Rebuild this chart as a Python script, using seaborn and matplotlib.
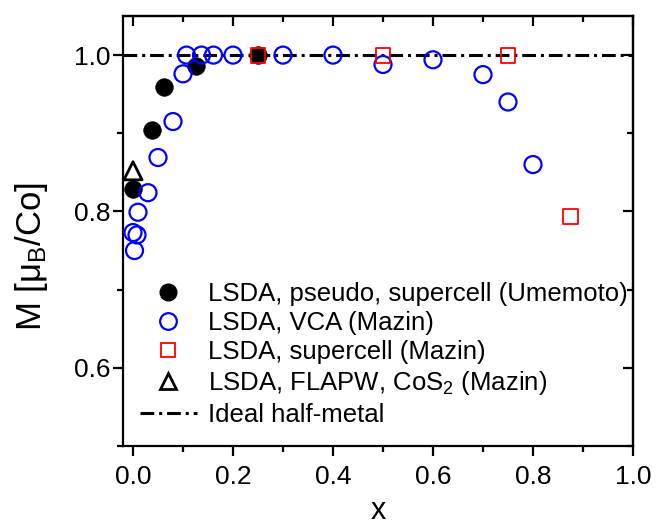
import matplotlib
matplotlib.use("Agg")
import matplotlib.pyplot as plt
import seaborn as sns
import pandas as pd
from matplotlib.ticker import MultipleLocator, FormatStrFormatter
from matplotlib.lines import Line2D

# LSDA pseudopotential supercell (Umemoto)
x_umemoto = [0.0, 0.0385, 0.0625, 0.125, 0.25]
m_umemoto = [0.829, 0.904, 0.959, 0.986, 1.0]

# LSDA virtual crystal approximation (Mazin)
x_vca = [0.0, 0.003, 0.008, 0.01, 0.03, 0.05, 0.08, 0.1, 0.107, 0.137,
         0.161, 0.2, 0.3, 0.4, 0.5, 0.6, 0.7, 0.75, 0.8]
m_vca = [0.773, 0.75, 0.77, 0.799, 0.824, 0.869, 0.915, 0.976, 1.0, 1.0,
         1.0, 1.0, 1.0, 1.0, 0.988, 0.994, 0.975, 0.94, 0.86]

# LSDA supercell (Mazin)
x_super = [0.25, 0.5, 0.75, 0.875]
m_super = [1.0, 1.0, 1.0, 0.794]

# LSDA FLAPW for CoS2 (Mazin)
x_flapw = [0.0]
m_flapw = [0.852]

# ideal half-metal moment
m_ideal = 1.0

labels = [
    "LSDA, pseudo, supercell (Umemoto)",
    "LSDA, VCA (Mazin)",
    "LSDA, supercell (Mazin)",
    r"LSDA, FLAPW, CoS$_2$ (Mazin)",
    "Ideal half-metal",
]

sns.set_theme(style="ticks")
plt.rcParams["font.family"] = ["Liberation Sans", "DejaVu Sans"]
plt.rcParams["mathtext.fontset"] = "custom"
plt.rcParams["mathtext.rm"] = "Liberation Sans"
plt.rcParams["mathtext.it"] = "Liberation Sans:italic"
plt.rcParams["mathtext.bf"] = "Liberation Sans:bold"
plt.rcParams["text.color"] = "black"
plt.rcParams["axes.labelcolor"] = "black"
plt.rcParams["xtick.color"] = "black"
plt.rcParams["ytick.color"] = "black"

fig = plt.figure(figsize=(6.56, 5.25), dpi=100)
ax = fig.add_axes([123 / 656, 1 - 446 / 525, (633 - 123) / 656, (446 - 16) / 525])

df_u = pd.DataFrame({"x": x_umemoto, "M": m_umemoto})
df_v = pd.DataFrame({"x": x_vca, "M": m_vca})
df_s = pd.DataFrame({"x": x_super, "M": m_super})
df_f = pd.DataFrame({"x": x_flapw, "M": m_flapw})

sns.scatterplot(data=df_u, x="x", y="M", ax=ax, marker="o", s=160,
                color="black", edgecolor="black", linewidth=0.5, zorder=3)
sns.scatterplot(data=df_v, x="x", y="M", ax=ax, marker="o", s=150,
                color="blue", facecolor="none", edgecolor="blue",
                linewidth=1.6, zorder=4)
sns.scatterplot(data=df_s, x="x", y="M", ax=ax, marker="s", s=115,
                color="red", facecolor="none", edgecolor="red",
                linewidth=1.3, zorder=5)
sns.scatterplot(data=df_f, x="x", y="M", ax=ax, marker="^", s=170,
                color="black", facecolor="none", edgecolor="black",
                linewidth=2.0, zorder=5)
ideal_style = dict(color="black", lw=2.2, ls=(0, (4.5, 1.6, 1.0, 1.6)))
ax.axhline(m_ideal, zorder=2, **ideal_style)

ax.set_xlim(-0.02, 1.0)
ax.set_ylim(0.5, 1.05)
ax.set_xticks([0.0, 0.2, 0.4, 0.6, 0.8, 1.0])
ax.set_yticks([0.6, 0.8, 1.0])
ax.xaxis.set_minor_locator(MultipleLocator(0.1))
ax.yaxis.set_minor_locator(MultipleLocator(0.1))
ax.xaxis.set_major_formatter(FormatStrFormatter("%.1f"))
ax.yaxis.set_major_formatter(FormatStrFormatter("%.1f"))

for side in ["left", "right", "top", "bottom"]:
    ax.spines[side].set_visible(True)
    ax.spines[side].set_linewidth(1.6)
    ax.spines[side].set_color("black")

ax.tick_params(axis="both", which="major", direction="out", length=7.5,
               width=1.6, labelsize=19, colors="black",
               top=False, right=False)
ax.tick_params(axis="x", which="major", pad=6)
ax.tick_params(axis="y", which="major", pad=1.5)
ax.tick_params(axis="both", which="minor", direction="out", length=4,
               width=1.6, top=False, right=False)

# inward ticks mirrored on top and right
ax_top = ax.secondary_xaxis("top")
ax_top.set_xticks([0.0, 0.2, 0.4, 0.6, 0.8, 1.0])
ax_top.xaxis.set_minor_locator(MultipleLocator(0.1))
ax_top.tick_params(which="major", direction="in", length=7.5, width=1.6,
                   labeltop=False)
ax_top.tick_params(which="minor", direction="in", length=4, width=1.6)
ax_top.spines["top"].set_linewidth(1.6)
ax_right = ax.secondary_yaxis("right")
ax_right.set_yticks([0.6, 0.8, 1.0])
ax_right.yaxis.set_minor_locator(MultipleLocator(0.1))
ax_right.tick_params(which="major", direction="in", length=7.5, width=1.6,
                     labelright=False)
ax_right.tick_params(which="minor", direction="in", length=4, width=1.6)
ax_right.spines["right"].set_linewidth(1.6)

ax.set_xlabel("x", fontsize=22, labelpad=5, color="black")
ax.set_ylabel(r"M [$\mathrm{\mu_B}$/Co]", fontsize=25, color="black")
ax.yaxis.set_label_coords(-0.143, 0.44)

handles = [
    Line2D([], [], ls="none", marker="o", ms=12, color="black"),
    Line2D([], [], ls="none", marker="o", ms=12, mfc="none", mec="blue", mew=1.6),
    Line2D([], [], ls="none", marker="s", ms=9.5, mfc="none", mec="red", mew=1.3),
    Line2D([], [], ls="none", marker="^", ms=12, mfc="none", mec="black", mew=2.0),
    Line2D([], [], **ideal_style),
]
fig.legend(handles, labels, loc="upper left",
           bbox_to_anchor=(140 / 656, 1 - 282 / 525), frameon=False,
           fontsize=18.5, borderpad=0, borderaxespad=0, labelspacing=0.2,
           handlelength=2.2, handletextpad=0.45, labelcolor="black")

fig.savefig("out.png", dpi=100)
